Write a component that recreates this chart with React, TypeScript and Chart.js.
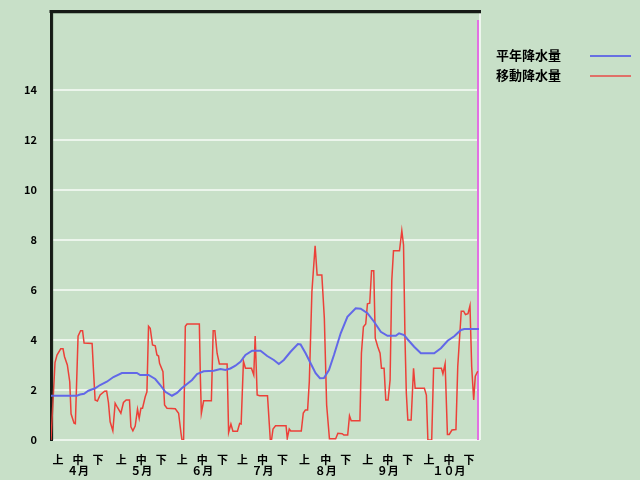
import { useEffect, useRef } from 'react';
import { Chart, registerables } from 'chart.js';
Chart.register(...registerables);

// day index from 1 April (0) to 31 October
const RED_DAYS = [0, 2, 3, 4.85, 6, 6.75, 8.15, 9.35, 10, 11.5, 12.15, 13.5, 14.75, 15.75, 16.5, 20.5, 21.25, 22, 23.15, 24.5, 26.75, 27.75, 28.65, 29.5, 30.85, 32, 33.15, 34.85, 36.15, 37.5, 39.15, 39.85, 40.85, 42, 43.15, 44, 44.85, 45.65, 47, 47.85, 48.65, 49.5, 50.65, 52, 52.85, 53.65, 54.15, 55.85, 56.65, 57.85, 62, 63.65, 64.85, 65.35, 66.15, 67, 67.85, 74, 74.5, 75, 76.15, 80, 80.9, 81.75, 82.85, 84, 87.85, 88.6, 89.75, 90.75, 93, 94.1, 94.85, 96, 97, 100, 101.15, 101.85, 102.85, 104, 108, 109.4, 110, 110.75, 112, 117.25, 117.85, 118.85, 119.6, 124.85, 125.85, 126.9, 128, 128.85, 130.15, 131.75, 132.75, 135.1, 136.35, 137.5, 138.9, 142, 143.1, 145.25, 146.1, 148, 148.9, 149.75, 154.1, 154.85, 155.85, 157, 157.85, 159, 159.9, 161, 161.75, 163, 164.15, 164.85, 166.15, 167, 168.15, 169.15, 170, 170.85, 173.85, 175, 175.85, 176.6, 177.25, 178, 179.65, 180.85, 181.65, 186.25, 187.25, 188, 189.9, 190.85, 194.75, 195.5, 196.6, 197.75, 198.65, 200, 202, 202.9, 204.65, 205.85, 206.75, 208, 209, 209.85, 210.85, 211.65, 212.85];
const RED_VALUES = [0, 3.1, 3.4, 3.65, 3.65, 3.33, 3.0, 2.33, 1.05, 0.67, 0.65, 4.15, 4.37, 4.37, 3.88, 3.86, 2.7, 1.6, 1.56, 1.8, 1.95, 1.96, 1.5, 0.73, 0.37, 1.47, 1.3, 1.07, 1.5, 1.6, 1.6, 0.53, 0.37, 0.56, 1.23, 0.87, 1.27, 1.27, 1.73, 1.93, 4.55, 4.47, 3.8, 3.77, 3.4, 3.36, 3.07, 2.73, 1.4, 1.27, 1.25, 1.07, 0.27, 0, 0, 4.55, 4.64, 4.64, 2.53, 1.07, 1.57, 1.57, 4.37, 4.37, 3.47, 3.04, 3.04, 0.3, 0.64, 0.35, 0.35, 0.66, 0.64, 3.15, 2.87, 2.87, 2.6, 4.16, 1.8, 1.77, 1.77, 0, 0, 0.44, 0.57, 0.57, 0.07, 0.44, 0.36, 0.36, 1.08, 1.2, 1.2, 2.33, 5.93, 7.77, 6.6, 6.6, 4.87, 1.4, 0.05, 0.05, 0.27, 0.25, 0.2, 0.2, 0.97, 0.77, 0.77, 3.47, 4.53, 4.64, 5.45, 5.47, 6.77, 6.77, 4.07, 3.73, 3.47, 2.87, 2.87, 1.6, 1.6, 2.4, 6.4, 7.57, 7.57, 8.37, 7.8, 4.0, 1.87, 0.8, 0.8, 2.87, 2.07, 2.07, 1.8, 0, 0, 2.87, 2.87, 2.65, 3.05, 0.22, 0.22, 0.4, 0.42, 2.93, 5.15, 5.15, 5.02, 5.05, 5.37, 2.93, 1.6, 2.55, 2.75];

const BLUE_DAYS = [0, 12.85, 14.5, 16.5, 18.65, 22, 24.5, 27.85, 31.15, 35.35, 42.85, 44.5, 48.65, 52, 54.5, 57, 60.35, 62.85, 65.35, 67.85, 70.35, 72.85, 76.15, 81.15, 84.5, 87, 89.5, 92, 94.5, 97, 100.35, 104.5, 107.85, 111.15, 113.65, 116.15, 119.5, 123.15, 124.5, 127, 129.5, 132, 134.15, 136.15, 138.65, 141.15, 144.5, 147.85, 152, 154.5, 157.85, 161.15, 164.5, 167.85, 172, 173.65, 176.15, 177.85, 181.15, 184.5, 191.15, 194.5, 197.85, 201.15, 204.5, 206.15, 213.5];
const BLUE_VALUES = [1.77, 1.77, 1.82, 1.85, 1.97, 2.07, 2.2, 2.33, 2.52, 2.68, 2.68, 2.6, 2.6, 2.44, 2.2, 1.93, 1.77, 1.88, 2.08, 2.24, 2.4, 2.64, 2.75, 2.77, 2.84, 2.8, 2.86, 2.97, 3.13, 3.4, 3.57, 3.57, 3.36, 3.2, 3.04, 3.2, 3.53, 3.84, 3.82, 3.47, 3.07, 2.67, 2.47, 2.48, 2.8, 3.4, 4.27, 4.93, 5.27, 5.25, 5.07, 4.73, 4.33, 4.17, 4.17, 4.27, 4.2, 4.03, 3.73, 3.47, 3.47, 3.67, 3.97, 4.15, 4.4, 4.44, 4.44];

const MARK_DAY = 213;
const MARK_RANGE = [0, 16.8];

const TICK_DAYS = [3.5, 13.5, 23.5, 35, 45, 55, 65.5, 75.5, 85.5, 95.5, 105.5, 115.5, 126.5, 137, 147, 158, 168, 178, 188.5, 198.5, 208.5];
const TICK_LABELS: (string | string[])[] = [
  '上', ['中', '４月'], '下',
  '上', ['中', '５月'], '下',
  '上', ['中', '６月'], '下',
  '上', ['中', '７月'], '下',
  '上', ['中', '８月'], '下',
  '上', ['中', '９月'], '下',
  '上', ['中', '１０月'], '下',
];
const Y_TICK_MAX = 14;

const SERIES_NAMES = ['平年降水量', '移動降水量'];
const BLUE = 'rgb(98,104,232)';
const RED = 'rgb(236,64,56)';
const BG = '#c8e0c8';

const framePlugin = {
  id: 'frame',
  afterDraw(chart: any) {
    const { ctx, chartArea } = chart;
    const { left, top, right, bottom } = chartArea;
    ctx.save();
    ctx.strokeStyle = 'rgba(242,248,242,0.9)';
    ctx.lineWidth = 2;
    ctx.beginPath();
    ctx.moveTo(right, top);
    ctx.lineTo(right, bottom);
    ctx.stroke();
    ctx.strokeStyle = 'rgba(60,80,60,0.35)';
    ctx.lineWidth = 1;
    ctx.beginPath();
    ctx.moveTo(left + 2, top + 2.5);
    ctx.lineTo(right + 1, top + 2.5);
    ctx.moveTo(left + 2, top + 2);
    ctx.lineTo(left + 2, bottom);
    ctx.stroke();
    ctx.strokeStyle = '#161a16';
    ctx.lineWidth = 3;
    ctx.beginPath();
    ctx.moveTo(left - 1.5, top + 0.5);
    ctx.lineTo(right + 1, top + 0.5);
    ctx.stroke();
    ctx.restore();
  },
};

export default function App() {
  const ref = useRef<HTMLCanvasElement>(null);
  useEffect(() => {
    const font = { family: "'Noto Sans CJK JP', sans-serif", size: 11, weight: 'bold' as const };
    const chart = new Chart(ref.current!, {
      type: 'line',
      data: {
        datasets: [
          {
            label: SERIES_NAMES[0],
            data: BLUE_DAYS.map((d, i) => ({ x: d, y: BLUE_VALUES[i] })),
            borderColor: BLUE,
            borderWidth: 2,
            pointRadius: 0,
            tension: 0,
          },
          {
            label: SERIES_NAMES[1],
            data: RED_DAYS.map((d, i) => ({ x: d, y: RED_VALUES[i] })),
            borderColor: RED,
            borderWidth: 1.5,
            pointRadius: 0,
            tension: 0,
          },
          {
            label: 'mark',
            data: MARK_RANGE.map((v) => ({ x: MARK_DAY, y: v })),
            borderColor: 'rgb(226,112,226)',
            borderWidth: 2,
            pointRadius: 0,
          },
        ],
      },
      options: {
        animation: false,
        responsive: false,
        layout: { padding: { top: 11, right: 160, bottom: 0, left: 0 } },
        plugins: { legend: { display: false }, tooltip: { enabled: false } },
        scales: {
          x: {
            type: 'linear',
            min: 0,
            max: 214,
            afterBuildTicks: (s: any) => {
              s.ticks = TICK_DAYS.map((v) => ({ value: v }));
            },
            afterFit: (s: any) => {
              s.height = 40;
              s.paddingLeft = 0;
              s.paddingRight = 0;
              s.paddingTop = 0;
              s.paddingBottom = 0;
            },
            grid: { display: false },
            border: { display: false },
            ticks: {
              autoSkip: false,
              maxRotation: 0,
              minRotation: 0,
              padding: 6,
              color: '#000',
              font: { ...font, lineHeight: 1.0 },
              callback: (_v: any, i: number) => TICK_LABELS[i],
            },
          },
          y: {
            min: 0,
            max: 17.16,
            afterBuildTicks: (s: any) => {
              s.ticks = s.ticks.filter((t: any) => t.value <= Y_TICK_MAX);
            },
            afterFit: (s: any) => {
              s.width = 51;
              s.paddingTop = 0;
              s.paddingBottom = 0;
              s.paddingLeft = 0;
              s.paddingRight = 0;
            },
            grid: { color: 'rgba(242,248,242,0.85)', lineWidth: 2, drawTicks: false },
            border: { color: '#161a16', width: 3 },
            ticks: { stepSize: 2, padding: 14, color: '#000', font },
          },
        },
      },
      plugins: [framePlugin],
    });
    return () => chart.destroy();
  }, []);

  const legendText = {
    position: 'absolute' as const,
    left: 496,
    fontFamily: "'Noto Sans CJK JP', sans-serif",
    fontWeight: 'bold' as const,
    fontSize: 13,
    lineHeight: '16px',
    color: '#000',
    whiteSpace: 'nowrap' as const,
  };
  const legendLine = { position: 'absolute' as const, left: 590, width: 41, height: 2 };

  return (
    <div style={{ position: 'fixed', left: 0, top: 0, width: 640, height: 480, background: BG }}>
      <canvas ref={ref} width={640} height={480} style={{ position: 'absolute', left: 0, top: 0 }} />
      <div style={{ ...legendText, top: 47 }}>{SERIES_NAMES[0]}</div>
      <div style={{ ...legendLine, top: 55, background: 'rgb(104,112,226)' }} />
      <div style={{ ...legendText, top: 67 }}>{SERIES_NAMES[1]}</div>
      <div style={{ ...legendLine, top: 75, background: 'rgb(224,112,104)' }} />
    </div>
  );
}
